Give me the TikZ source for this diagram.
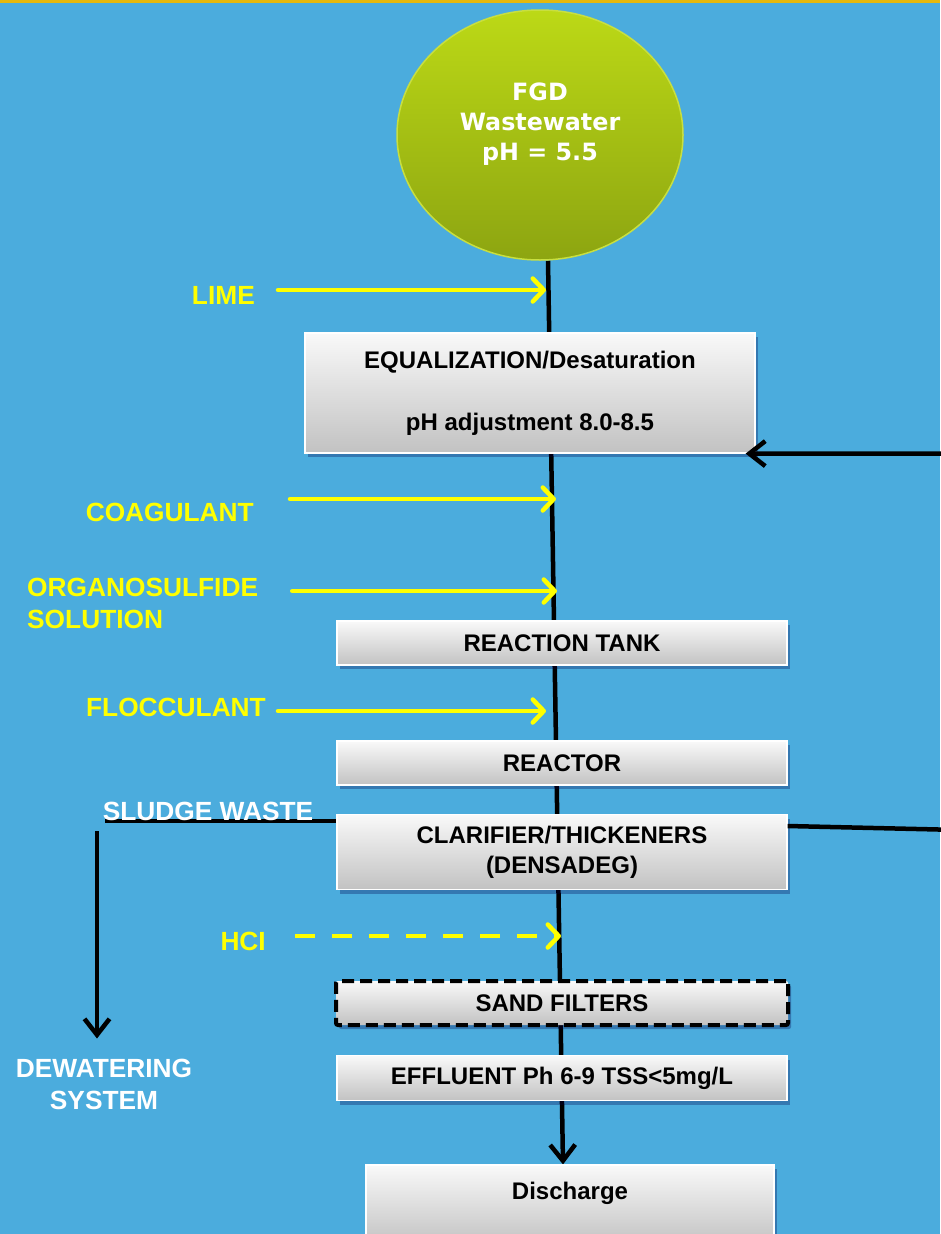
\documentclass[tikz,border=0pt]{standalone}
\usepackage{fontspec}
\setmainfont{Liberation Sans}
\newfontfamily\sourcefont{DejaVu Sans}
\usetikzlibrary{arrows.meta,shapes.geometric,shadows}

\definecolor{skyblue}{HTML}{4BACDD}
\definecolor{goldrule}{HTML}{E5B80B}
\definecolor{dosing}{HTML}{FFFF00}
\definecolor{limetop}{HTML}{BCD916}
\definecolor{limebottom}{HTML}{8DA511}
\definecolor{limerim}{HTML}{C8DF40}
\definecolor{tanktop}{HTML}{F9F9F9}
\definecolor{tankbottom}{HTML}{C2C2C2}

\pgfdeclarelayer{background}
\pgfsetlayers{background,main}

\tikzset{
  tank/.style={rectangle, draw=white, line width=1.2pt, top color=tanktop, bottom color=tankbottom,
    minimum width=450pt, inner sep=0pt, align=center,
    font=\fontsize{24}{30}\selectfont\bfseries,
    drop shadow={shadow xshift=3pt, shadow yshift=-4pt, opacity=0.3, fill=black!70!blue}},
  dose/.style={text=dosing, inner sep=0pt, font=\fontsize{26.3}{32}\selectfont\bfseries},
  waste/.style={text=white, inner sep=0pt, font=\fontsize{26.3}{32}\selectfont\bfseries},
  flow/.style={draw=black, line width=4.5pt},
  feed/.style={draw=dosing, line width=4.5pt, line cap=round,
    -{Straight Barb[round,length=11pt,width=23pt]}},
  barb/.style={-{Straight Barb[length=16pt,width=25pt]}},
}

\begin{document}
\begin{tikzpicture}[x=1pt, y=-1pt]
\useasboundingbox (0,0) rectangle (940,1234);

% source
\node[ellipse, minimum width=286pt, minimum height=250pt, top color=limetop, bottom color=limebottom,
  draw=limerim, line width=1.5pt,
  label={[text=white, align=center, yshift=11pt, font=\sourcefont\fontsize{23.8}{30}\selectfont\bfseries]center:{FGD\\Wastewater\\pH = 5.5}}]
  (fgd) at (540,135) {};

% treatment train
\node[tank, minimum height=120pt] (eq) at (530,393) {EQUALIZATION/Desaturation\\[32pt]pH adjustment 8.0-8.5};
\node[tank, minimum height=44pt] (rtank) at (562,643) {REACTION TANK};
\node[tank, minimum height=44pt] (reactor) at (562,763) {REACTOR};
\node[tank, minimum height=75pt] (clar) at (562,852) {CLARIFIER/THICKENERS\\(DENSADEG)};
\node[tank, minimum height=44pt, minimum width=452pt, draw=black, line width=4pt,
  dash pattern=on 12pt off 6pt, rounded corners=2pt] (sand) at (562,1003) {SAND FILTERS};
\node[tank, minimum height=45pt] (eff) at (562,1078) {EFFLUENT Ph 6-9 TSS<5mg/L};
\node[tank, minimum width=408pt, minimum height=80pt, inner ysep=8pt,
  text height=26pt, text depth=38pt] (dis) at (570,1205) {Discharge};

% chemicals
\node[dose, anchor=east] (lime) at (255,295) {LIME};
\node[dose, anchor=east] (coag) at (254,512) {COAGULANT};
\node[dose, anchor=west, align=left] (orgs) at (27,603) {ORGANOSULFIDE\\SOLUTION};
\node[dose, anchor=east] (floc) at (266,707) {FLOCCULANT};
\node[dose, anchor=east] (hcl) at (266,941) {HCI};

\node[waste] (sludge) at (208,811) {SLUDGE WASTE};
\node[waste, align=center] (dewat) at (104,1084) {DEWATERING\\SYSTEM};

\coordinate (limeIn) at (546,290);
\coordinate (coagIn) at (556,499);
\coordinate (orgsIn) at (557,591);
\coordinate (flocIn) at (546,711);
\coordinate (hclIn) at (561,936);
\coordinate (sludgeEnd) at (105,821);
\coordinate (dewatTop) at (97,831);
\coordinate (recycle) at (960,830);

\draw[feed, shorten <=23pt] (limeIn -| lime.east) -- (limeIn);
\draw[feed, shorten <=36pt] (coagIn -| coag.east) -- (coagIn);
\draw[feed, shorten <=34pt] (orgsIn -| orgs.east) -- (orgsIn);
\draw[feed, shorten <=12pt] (flocIn -| floc.east) -- (flocIn);
\draw[feed, line cap=butt, dash pattern=on 20pt off 17pt, shorten <=29pt] (hclIn -| hcl.east) -- (hclIn);

\draw[flow, barb] ([yshift=26pt]clar.east) -- (recycle) |- ([xshift=-10pt]eq.south east);

\begin{pgfonlayer}{background}
\fill[skyblue] (0,0) rectangle (940,1234);
\fill[goldrule] (0,0) rectangle (940,3);
\draw[flow, barb] ([xshift=8pt]fgd.south) -- ([xshift=-7pt]dis.north);
\draw[flow] (clar.west |- sludgeEnd) -- (sludgeEnd);
\draw[flow, barb, shorten >=20pt] (dewatTop) -- (dewatTop |- dewat.north);
\end{pgfonlayer}

\end{tikzpicture}
\end{document}
